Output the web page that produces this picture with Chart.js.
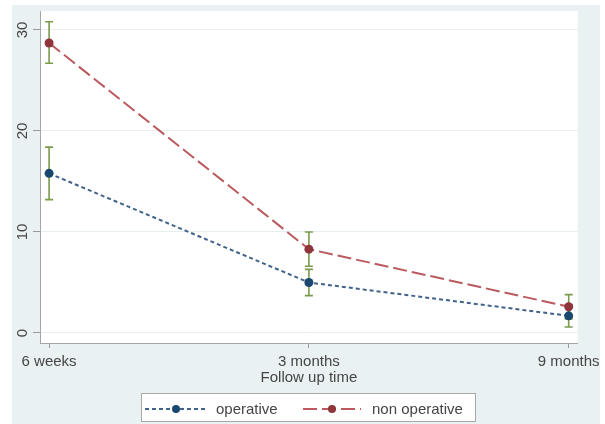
<!DOCTYPE html>
<html><head><meta charset="utf-8">
<script src="https://cdn.jsdelivr.net/npm/chart.js@4"></script>
<style>html,body{margin:0;padding:0;background:#fff}</style>
</head><body><canvas id="c" width="605" height="424" style="display:block;width:605px;height:424px"></canvas>
<script>
const categories = ['6 weeks', '3 months', '9 months'];
const seriesNames = ['operative', 'non operative'];
const operative = [15.8, 5.0, 1.7];
const operativeLow = [13.2, 3.7, 0.6];
const operativeHigh = [18.4, 6.3, 2.8];
const nonOperative = [28.7, 8.3, 2.6];
const nonOperativeLow = [26.7, 6.6, 1.4];
const nonOperativeHigh = [30.8, 10.0, 3.8];
const yTicks = [0, 10, 20, 30];
const xTitle = 'Follow up time';

const lineColors = ['#41638a', '#bb5a5e'];
const pointColors = ['#1a476f', '#90353b'];
const dashes = [[4, 3], [14, 5]];
const ciColor = '#7b9a4c';
const lows = [operativeLow, nonOperativeLow];
const highs = [operativeHigh, nonOperativeHigh];

Chart.defaults.font.family = '"Liberation Sans", Arial, sans-serif';
Chart.defaults.font.size = 15;
Chart.defaults.color = '#454545';

const bgPlugin = {
  id: 'bg',
  beforeDraw(chart) {
    const ctx = chart.ctx, a = chart.chartArea;
    ctx.save();
    ctx.fillStyle = '#ffffff';
    ctx.fillRect(0, 0, chart.width, chart.height);
    ctx.fillStyle = '#eaf1f3';
    ctx.fillRect(12, 5, 588, 419);
    ctx.fillStyle = '#ffffff';
    ctx.fillRect(a.left, a.top, a.right - a.left, a.bottom - a.top);
    ctx.restore();
  }
};

const ciPlugin = {
  id: 'ci',
  beforeDatasetsDraw(chart) {
    const ctx = chart.ctx, xs = chart.scales.x, ys = chart.scales.y;
    ctx.save();
    ctx.strokeStyle = ciColor;
    ctx.lineWidth = 1.6;
    lows.forEach((lo, s) => {
      lo.forEach((v, i) => {
        const x = xs.getPixelForValue(i);
        const y1 = ys.getPixelForValue(v), y2 = ys.getPixelForValue(highs[s][i]);
        ctx.beginPath();
        ctx.moveTo(x, y1); ctx.lineTo(x, y2);
        ctx.moveTo(x - 4, y1); ctx.lineTo(x + 4, y1);
        ctx.moveTo(x - 4, y2); ctx.lineTo(x + 4, y2);
        ctx.stroke();
      });
    });
    ctx.restore();
  }
};

const legendPlugin = {
  id: 'customLegend',
  afterDraw(chart) {
    const ctx = chart.ctx;
    ctx.save();
    ctx.fillStyle = '#ffffff';
    ctx.strokeStyle = '#a8a8a8';
    ctx.lineWidth = 1;
    ctx.fillRect(141.5, 393.5, 334, 28);
    ctx.strokeRect(141.5, 393.5, 334, 28);
    const y = 409;
    const items = [{x0: 145, x1: 207, tx: 216}, {x0: 303, x1: 361, tx: 372}];
    items.forEach((it, s) => {
      ctx.strokeStyle = lineColors[s];
      ctx.lineWidth = 2;
      ctx.setLineDash(dashes[s]);
      ctx.beginPath(); ctx.moveTo(it.x0, y); ctx.lineTo(it.x1, y); ctx.stroke();
      ctx.setLineDash([]);
      ctx.fillStyle = pointColors[s];
      ctx.beginPath(); ctx.arc((it.x0 + it.x1) / 2, y, 4, 0, Math.PI * 2); ctx.fill();
      ctx.fillStyle = '#454545';
      ctx.font = '15px "Liberation Sans", Arial, sans-serif';
      ctx.textBaseline = 'middle';
      ctx.textAlign = 'left';
      ctx.fillText(seriesNames[s], it.tx, y + 1);
    });
    ctx.restore();
  }
};

const seriesData = [operative, nonOperative];
new Chart(document.getElementById('c'), {
  type: 'line',
  data: {
    datasets: seriesData.map((arr, s) => ({
      label: seriesNames[s],
      data: arr.map((v, i) => ({x: i, y: v})),
      borderColor: lineColors[s],
      borderWidth: 2,
      borderDash: dashes[s],
      pointRadius: 4.5,
      pointBackgroundColor: pointColors[s],
      pointBorderColor: pointColors[s],
      pointBorderWidth: 0,
      tension: 0,
      fill: false
    }))
  },
  options: {
    responsive: false,
    animation: false,
    devicePixelRatio: 1,
    layout: {padding: {left: 12, right: 27, top: 10, bottom: 31}},
    plugins: {legend: {display: false}, tooltip: {enabled: false}},
    scales: {
      x: {
        type: 'linear',
        min: -0.035, max: 2.035,
        afterBuildTicks: sc => { sc.ticks = categories.map((c, i) => ({value: i})); },
        afterFit: sc => { sc.height = 50; },
        ticks: {callback: v => categories[v], padding: 5, maxRotation: 0, autoSkip: false},
        grid: {drawOnChartArea: false, tickLength: 5, tickColor: '#9a9a9a'},
        border: {color: '#a5a5a5', width: 1},
        title: {display: true, text: xTitle, padding: {top: 0, bottom: 6}, font: {size: 15}}
      },
      y: {
        type: 'linear',
        min: -0.99, max: 31.87,
        afterBuildTicks: sc => { sc.ticks = yTicks.map(v => ({value: v})); },
        afterFit: sc => { sc.width = 28; },
        ticks: {minRotation: 90, maxRotation: 90, crossAlign: 'center', padding: 2, autoSkip: false},
        grid: {color: '#e6eef0', tickLength: 7, tickColor: '#9a9a9a'},
        border: {color: '#a5a5a5', width: 1}
      }
    }
  },
  plugins: [bgPlugin, ciPlugin, legendPlugin]
});
</script>
</body></html>
